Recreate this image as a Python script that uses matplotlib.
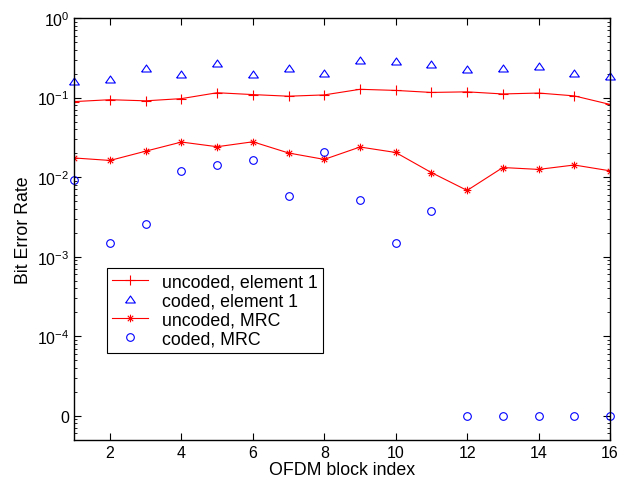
# BER per OFDM block, element 1 vs MRC

import numpy as np
import matplotlib
matplotlib.use("Agg")
import matplotlib.pyplot as plt
from matplotlib.path import Path
from matplotlib.ticker import FixedLocator, FixedFormatter, LogLocator, NullFormatter

plt.rcParams['font.family'] = ['Liberation Sans', 'DejaVu Sans']
plt.rcParams['font.size'] = 10
plt.rcParams['mathtext.fontset'] = 'custom'
plt.rcParams['mathtext.rm'] = 'Liberation Sans'
plt.rcParams['mathtext.it'] = 'Liberation Sans'
plt.rcParams['mathtext.default'] = 'regular'

blocks = list(range(1, 17))
uncoded_el1 = [0.089, 0.094, 0.091, 0.097, 0.115, 0.109, 0.104, 0.108,
               0.127, 0.123, 0.116, 0.118, 0.111, 0.114, 0.105, 0.082]
coded_el1 = [0.163, 0.172, 0.238, 0.197, 0.275, 0.197, 0.234, 0.206,
             0.300, 0.286, 0.267, 0.229, 0.236, 0.252, 0.206, 0.185]
uncoded_mrc = [0.0174, 0.0162, 0.0212, 0.0276, 0.0241, 0.0278, 0.0201, 0.0167,
               0.0239, 0.0204, 0.0114, 0.0068, 0.0132, 0.0125, 0.0142, 0.0120]
coded_mrc = [0.0093, 0.0015, 0.0026, 0.0119, 0.0144, 0.0165, 0.0058, 0.0206,
             0.0052, 0.0015, 0.0037, 0, 0, 0, 0, 0]

# zero BER is drawn on the 1e-5 row, which is labelled "0"
zero_level = 1e-5
coded_mrc_plot = [v if v > 0 else zero_level for v in coded_mrc]

# matlab-style markers: asterisk (+ and x together) and a flat triangle
d = 0.7071
star = Path([(-1, 0), (1, 0), (0, -1), (0, 1), (-d, -d), (d, d), (-d, d), (d, -d)],
            [Path.MOVETO, Path.LINETO] * 4)
tri = [(-1, -0.72), (1, -0.72), (0, 0.72), (-1, -0.72)]

fig = plt.figure(figsize=(6.26, 4.85), dpi=100)
ax = fig.add_axes([0.1187, 0.0913, 0.8557, 0.8695])

ax.plot(blocks, uncoded_el1, color='red', marker='+', markersize=6.5, lw=0.8,
        markeredgewidth=0.8, label='uncoded, element 1')
ax.plot(blocks, coded_el1, color='blue', marker=tri, markersize=7, lw=0,
        markerfacecolor='none', markeredgewidth=0.8, label='coded, element 1',
        clip_on=False)
ax.plot(blocks, uncoded_mrc, color='red', marker=star, markersize=5.5, lw=0.8,
        markeredgewidth=0.8, label='uncoded, MRC')
ax.plot(blocks, coded_mrc_plot, color='blue', marker='o', markersize=5.5, lw=0,
        markerfacecolor='none', markeredgewidth=0.8, label='coded, MRC', clip_on=False)

ax.set_yscale('log')
ax.set_xlim(1, 16)
ax.set_ylim(5e-6, 1)
ax.set_xticks(range(2, 17, 2))

yt = [1e-5, 1e-4, 1e-3, 1e-2, 1e-1, 1]
ax.yaxis.set_major_locator(FixedLocator(yt))
ax.yaxis.set_major_formatter(FixedFormatter(['0', r'$10^{-4}$', r'$10^{-3}$',
                                             r'$10^{-2}$', r'$10^{-1}$', r'$10^{0}$']))
ax.yaxis.set_minor_locator(LogLocator(base=10, subs=np.arange(2, 10), numticks=20))
ax.yaxis.set_minor_formatter(NullFormatter())

ax.tick_params(which='both', direction='in', top=True, right=True, labelsize=11.5)
ax.tick_params(which='major', length=5, width=0.8)
ax.tick_params(which='minor', length=2.5, width=0.6)
for s in ax.spines.values():
    s.set_linewidth(1.0)

ax.set_xlabel('OFDM block index', fontsize=12.8, labelpad=1)
ax.set_ylabel('Bit Error Rate', fontsize=12.8, labelpad=4)

leg = ax.legend(loc='lower left', bbox_to_anchor=(0.061, 0.206), fontsize=12.8,
                fancybox=False, framealpha=1, edgecolor='black',
                handlelength=2.0, handletextpad=0.8, borderpad=0.3, labelspacing=0.12,
                borderaxespad=0)
leg.get_frame().set_linewidth(0.8)

fig.savefig('out.png', dpi=100)
